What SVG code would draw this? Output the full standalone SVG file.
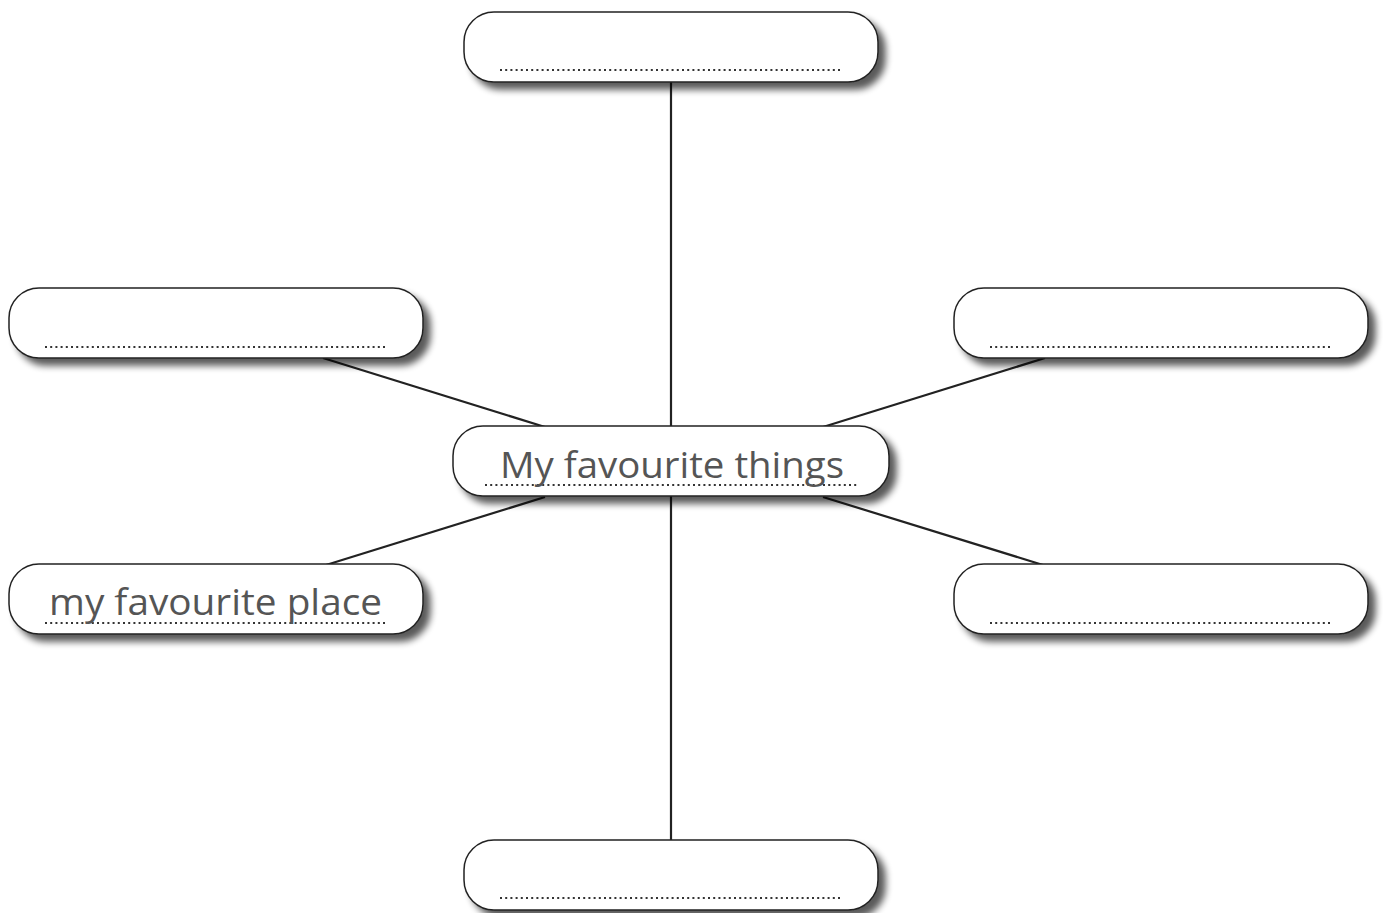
<svg xmlns="http://www.w3.org/2000/svg" width="1383" height="913" viewBox="0 0 1383 913">
<style>
.box{fill:#fff;stroke:#222;stroke-width:1.5;filter:url(#sh)}
.dots{stroke:#333;stroke-width:2.2;stroke-dasharray:2 3.2;fill:none}
.con line{stroke:#222;stroke-width:2.2}
.lbl{font-family:"Open Sans","Noto Sans",sans-serif;font-size:36px;fill:#555}
</style>
<defs>
<filter id="sh" x="-5%" y="-25%" width="115%" height="170%">
<feGaussianBlur in="SourceAlpha" stdDeviation="3.5"/>
<feOffset dx="7" dy="7" result="b"/>
<feComponentTransfer><feFuncA type="linear" slope="0.65"/></feComponentTransfer>
<feMerge><feMergeNode/><feMergeNode in="SourceGraphic"/></feMerge>
</filter>
</defs>
<rect width="1383" height="913" fill="#fff"/>
<g class="con">
<line x1="671" y1="82" x2="671" y2="427"/>
<line x1="671" y1="496" x2="671" y2="841"/>
<line x1="323" y1="358" x2="545" y2="427"/>
<line x1="1045" y1="358" x2="823" y2="427"/>
<line x1="545" y1="497" x2="326" y2="565"/>
<line x1="823" y1="497" x2="1043" y2="565"/>
</g>
<g id="top"><rect class="box" x="464" y="12" width="414" height="70" rx="30"/><line class="dots" x1="500" y1="70" x2="842" y2="70"/></g>
<g id="leftUpper"><rect class="box" x="9" y="288" width="414" height="70" rx="30"/><line class="dots" x1="45" y1="347" x2="386" y2="347"/></g>
<g id="rightUpper"><rect class="box" x="954" y="288" width="414" height="70" rx="30"/><line class="dots" x1="990" y1="347" x2="1331" y2="347"/></g>
<g id="center"><rect class="box" x="453" y="426" width="436" height="70" rx="30"/><line class="dots" x1="485" y1="485" x2="857" y2="485"/><text class="lbl" x="500" y="478" textLength="344" lengthAdjust="spacingAndGlyphs">My favourite things</text></g>
<g id="leftLower"><rect class="box" x="9" y="564" width="414" height="70" rx="30"/><line class="dots" x1="45" y1="623" x2="386" y2="623"/><text class="lbl" x="49" y="615" textLength="333" lengthAdjust="spacingAndGlyphs">my favourite place</text></g>
<g id="rightLower"><rect class="box" x="954" y="564" width="414" height="70" rx="30"/><line class="dots" x1="990" y1="623" x2="1331" y2="623"/></g>
<g id="bottom"><rect class="box" x="464" y="840" width="414" height="70" rx="30"/><line class="dots" x1="500" y1="898" x2="842" y2="898"/></g>
</svg>
